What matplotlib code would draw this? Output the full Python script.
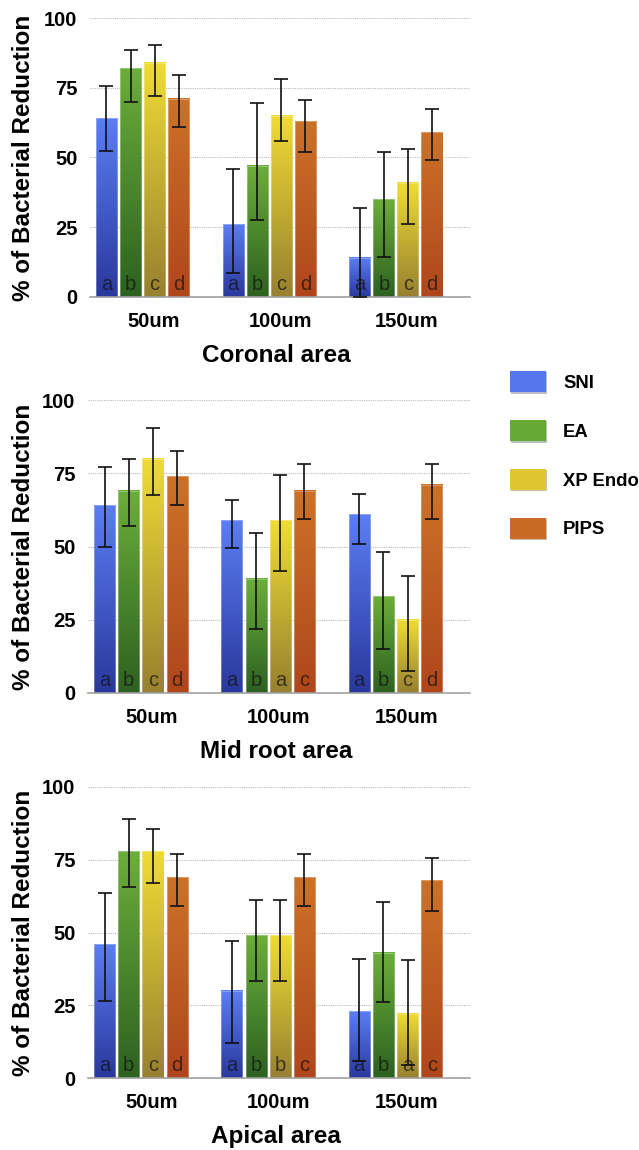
import numpy as np
import matplotlib
matplotlib.use('Agg')
import matplotlib.pyplot as plt
from matplotlib.patches import Patch, Rectangle
from matplotlib import patheffects
from matplotlib.colors import to_rgb

plt.rcParams['font.family'] = ['Liberation Sans', 'DejaVu Sans']

# %% data
groups = ['50um', '100um', '150um']
series = ['SNI', 'EA', 'XP Endo', 'PIPS']
areas = ['Coronal area', 'Mid root area', 'Apical area']

# Coronal area: bar value, top of whisker, bottom of whisker
coronal_vals = [[64, 26, 14], [82, 47, 35], [84, 65, 41], [71, 63, 59]]
coronal_hi = [[75.5, 46, 32], [88.5, 69.5, 52], [90.5, 78, 53], [79.5, 70.5, 67.5]]
coronal_lo = [[52.5, 8.5, 0], [70, 27.5, 14.5], [72, 56, 26], [61, 52, 49]]
coronal_letters = [['a', 'b', 'c', 'd'], ['a', 'b', 'c', 'd'], ['a', 'b', 'c', 'd']]

# Mid root area
mid_vals = [[64, 59, 61], [69, 39, 33], [80, 59, 25], [74, 69, 71]]
mid_hi = [[77, 66, 68], [80, 54.5, 48], [90.5, 74.5, 40], [82.5, 78, 78]]
mid_lo = [[50, 49.5, 51], [57, 22, 15], [67.5, 41.5, 7.5], [64, 59.5, 59.5]]
mid_letters = [['a', 'b', 'c', 'd'], ['a', 'b', 'a', 'c'], ['a', 'b', 'c', 'd']]

# Apical area
apical_vals = [[46, 30, 23], [78, 49, 43], [78, 49, 22], [69, 69, 68]]
apical_hi = [[63.5, 47, 41], [89, 61, 60.5], [85.5, 61, 40.5], [77, 77, 75.5]]
apical_lo = [[26.5, 12, 6], [65.5, 33.5, 26], [67, 33.5, 4.5], [59, 59, 57.5]]
apical_letters = [['a', 'b', 'c', 'd'], ['a', 'b', 'b', 'c'], ['a', 'b', 'a', 'c']]

yticks = [0, 25, 50, 75, 100]

# %% styles
grad_top = ['#5b7ef3', '#6cae3a', '#f0dc34', '#cc7228']
grad_bot = ['#2a389c', '#2d6120', '#978030', '#b0461c']
legend_cols = ['#5577ee', '#66aa33', '#ddc632', '#c96a25']

W, H = 639, 1150
fig = plt.figure(figsize=(W / 100, H / 100), dpi=100)

# axes boxes in pixels: left, top, right, bottom
boxes = [(90, 18, 470, 297), (88, 400, 470, 693), (88, 787, 470, 1078)]

panels = [
    (coronal_vals, coronal_hi, coronal_lo, coronal_letters),
    (mid_vals, mid_hi, mid_lo, mid_letters),
    (apical_vals, apical_hi, apical_lo, apical_letters),
]

bar_w = 0.166
step = 0.19
shift = 0.415  # bars sit a bit left of the tick


def gradient(c_bot, c_top):
    t = np.linspace(0, 1, 256)[:, None]
    b = np.array(to_rgb(c_bot))
    tp = np.array(to_rgb(c_top))
    return (b * (1 - t) + tp * t).reshape(256, 1, 3)


for p, (vals, hi, lo, letters) in enumerate(panels):
    l, t, r, b = boxes[p]
    ax = fig.add_axes([l / W, 1 - b / H, (r - l) / W, (b - t) / H])

    for k in range(len(series)):
        img = gradient(grad_bot[k], grad_top[k])
        xs = np.arange(len(groups)) + shift + (k - 1.5) * step
        v = np.array(vals[k], dtype=float)
        for i in range(len(groups)):
            x0 = xs[i] - bar_w / 2
            ax.imshow(img, extent=(x0, x0 + bar_w, 0, v[i]), origin='lower',
                      aspect='auto', interpolation='bilinear', zorder=2)
            ax.add_patch(Rectangle((x0, 0), bar_w, v[i], facecolor='none',
                                   edgecolor=(1, 1, 1, 0.35), lw=0.6, zorder=2.5))
            ax.text(xs[i], 1.0, letters[i][k], ha='center', va='bottom',
                    fontsize=14.5, color='#111111', alpha=0.7, zorder=3)
        err = [v - np.array(lo[k]), np.array(hi[k]) - v]
        ax.errorbar(xs, v, yerr=err, fmt='none', ecolor='#111111',
                    elinewidth=1.2, capsize=5, capthick=1.2, zorder=4,
                    clip_on=False)

    ax.set_xlim(0, 3)
    ax.set_ylim(0, 100)
    ax.set_yticks(yticks)
    ax.set_yticklabels([str(y) for y in yticks], fontsize=14.5, fontweight='bold')
    ax.set_xticks(np.arange(len(groups)) + 0.5)
    ax.set_xticklabels(groups, fontsize=14.5, fontweight='bold')
    ax.tick_params(length=0)
    ax.tick_params(axis='y', pad=9)
    ax.tick_params(axis='x', pad=11)
    ax.yaxis.grid(True, linestyle=(0, (1, 1)), color='#bbbbbb', lw=0.8)
    ax.set_axisbelow(True)
    for s in ['left', 'right', 'top']:
        ax.spines[s].set_visible(False)
    ax.spines['bottom'].set_color('#a0a0a0')
    ax.spines['bottom'].set_linewidth(1.2)

    ax.text(-(l - 24) / (r - l), 0.5, '% of Bacterial Reduction', rotation=90,
            ha='center', va='center', fontsize=17.5, fontweight='bold',
            transform=ax.transAxes)
    ax.annotate(areas[p], xy=((276 - l) / (r - l), 0), xycoords='axes fraction',
                xytext=(0, -47), textcoords='offset points', ha='center',
                va='baseline', fontsize=17.5, fontweight='bold')

# %% legend
handles = [Patch(facecolor=c, edgecolor='none',
                 path_effects=[patheffects.withSimplePatchShadow(offset=(1, -1), alpha=0.3)])
           for c in legend_cols]
leg = fig.legend(handles, series, loc='upper left',
                 bbox_to_anchor=(510 / W, 1 - 371 / H), frameon=False,
                 borderpad=0, borderaxespad=0, handlelength=1.95,
                 handleheight=1.4, labelspacing=1.49, handletextpad=0.92,
                 prop={'size': 13.3, 'weight': 'bold'})

fig.savefig('out.png', dpi=100)
